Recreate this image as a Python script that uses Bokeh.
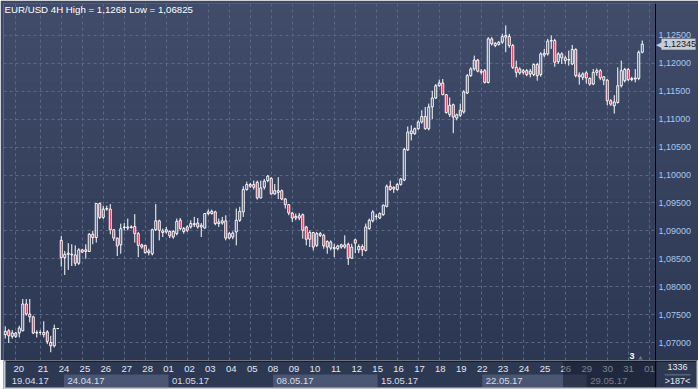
from bokeh.plotting import figure
from bokeh.models import (Range1d, FixedTicker, CustomJSTickFormatter, Grid,
                          BoxAnnotation, Label, ColumnDataSource)
from bokeh.layouts import column
from bokeh.core.properties import value
from bokeh.embed import file_html
from bokeh.resources import INLINE

# ---------------- data (EUR/USD, 4H candles) ----------------
opens = [1.0714, 1.0721, 1.0711, 1.0711, 1.0717, 1.0721, 1.0769, 1.0746, 1.0746, 1.0717,
         1.0718, 1.0714, 1.0719, 1.0700, 1.0694, 1.0725, 1.0883, 1.0852, 1.0858, 1.0857,
         1.0857, 1.0842, 1.0866, 1.0863, 1.0863, 1.0894, 1.0888, 1.0949, 1.0924, 1.0939,
         1.0939, 1.0902, 1.0887, 1.0875, 1.0906, 1.0905, 1.0906, 1.0908, 1.0895, 1.0875,
         1.0874, 1.0861, 1.0859, 1.0902, 1.0918, 1.0900, 1.0898, 1.0899, 1.0889, 1.0895,
         1.0919, 1.0899, 1.0907, 1.0907, 1.0911, 1.0914, 1.0907, 1.0905, 1.0931, 1.0935,
         1.0934, 1.0913, 1.0914, 1.0918, 1.0887, 1.0889, 1.0898, 1.0919, 1.0934, 1.0974,
         1.0980, 1.0983, 1.0987, 1.0959, 1.0978, 1.0990, 1.0994, 1.0966, 1.0969, 1.0972,
         1.0957, 1.0947, 1.0932, 1.0923, 1.0923, 1.0929, 1.0907, 1.0885, 1.0897, 1.0874,
         1.0892, 1.0892, 1.0881, 1.0869, 1.0868, 1.0868, 1.0875, 1.0871, 1.0876, 1.0851,
         1.0884, 1.0866, 1.0872, 1.0865, 1.0904, 1.0918, 1.0926, 1.0923, 1.0929, 1.0944,
         1.0980, 1.0975, 1.0974, 1.0983, 1.0991, 1.1045, 1.1074, 1.1074, 1.1083, 1.1095,
         1.1105, 1.1083, 1.1122, 1.1138, 1.1160, 1.1165, 1.1144, 1.1108, 1.1126, 1.1102,
         1.1107, 1.1113, 1.1147, 1.1178, 1.1190, 1.1206, 1.1186, 1.1187, 1.1166, 1.1244,
         1.1232, 1.1234, 1.1238, 1.1247, 1.1248, 1.1232, 1.1193, 1.1183, 1.1187, 1.1187,
         1.1181, 1.1180, 1.1198, 1.1180, 1.1215, 1.1217, 1.1240, 1.1241, 1.1203, 1.1210,
         1.1210, 1.1206, 1.1199, 1.1225, 1.1179, 1.1175, 1.1183, 1.1173, 1.1163, 1.1184,
         1.1187, 1.1170, 1.1170, 1.1133, 1.1124, 1.1130, 1.1160, 1.1169, 1.1189, 1.1171,
         1.1172, 1.1173, 1.1220]
highs = [1.0729, 1.0724, 1.0722, 1.0719, 1.0730, 1.0778, 1.0778, 1.0778, 1.0748, 1.0722,
         1.0722, 1.0738, 1.0722, 1.0712, 1.0732, 1.0726, 1.0891, 1.0864, 1.0878, 1.0876,
         1.0874, 1.0869, 1.0868, 1.0876, 1.0896, 1.0900, 1.0950, 1.0951, 1.0945, 1.0945,
         1.0948, 1.0903, 1.0888, 1.0913, 1.0914, 1.0922, 1.0910, 1.0930, 1.0898, 1.0877,
         1.0875, 1.0868, 1.0904, 1.0948, 1.0920, 1.0904, 1.0907, 1.0901, 1.0901, 1.0922,
         1.0923, 1.0907, 1.0910, 1.0919, 1.0925, 1.0923, 1.0914, 1.0932, 1.0938, 1.0938,
         1.0936, 1.0922, 1.0925, 1.0928, 1.0898, 1.0899, 1.0940, 1.0943, 1.0980, 1.0988,
         1.0986, 1.0990, 1.0990, 1.0990, 1.0993, 1.1000, 1.0996, 1.0984, 1.0996, 1.0974,
         1.0959, 1.0948, 1.0934, 1.0931, 1.0932, 1.0931, 1.0909, 1.0901, 1.0898, 1.0898,
         1.0898, 1.0895, 1.0883, 1.0883, 1.0877, 1.0875, 1.0877, 1.0892, 1.0879, 1.0877,
         1.0886, 1.0876, 1.0876, 1.0913, 1.0922, 1.0937, 1.0930, 1.0933, 1.0947, 1.0983,
         1.0990, 1.0980, 1.0986, 1.0995, 1.1049, 1.1087, 1.1089, 1.1085, 1.1098, 1.1116,
         1.1122, 1.1128, 1.1151, 1.1163, 1.1171, 1.1172, 1.1145, 1.1139, 1.1128, 1.1110,
         1.1128, 1.1152, 1.1181, 1.1193, 1.1214, 1.1208, 1.1190, 1.1190, 1.1247, 1.1247,
         1.1238, 1.1240, 1.1253, 1.1268, 1.1253, 1.1235, 1.1205, 1.1193, 1.1190, 1.1190,
         1.1190, 1.1200, 1.1201, 1.1220, 1.1226, 1.1244, 1.1250, 1.1244, 1.1220, 1.1220,
         1.1214, 1.1223, 1.1233, 1.1227, 1.1184, 1.1184, 1.1186, 1.1175, 1.1190, 1.1191,
         1.1190, 1.1177, 1.1172, 1.1136, 1.1143, 1.1193, 1.1205, 1.1192, 1.1192, 1.1176,
         1.1190, 1.1223, 1.1241]
lows = [1.0707, 1.0699, 1.0707, 1.0708, 1.0709, 1.0720, 1.0748, 1.0736, 1.0715, 1.0709,
        1.0714, 1.0709, 1.0697, 1.06825, 1.0691, 1.0724, 1.0836, 1.0821, 1.0830, 1.0837,
        1.0837, 1.0839, 1.0860, 1.0850, 1.0862, 1.0876, 1.0879, 1.0921, 1.0921, 1.0936,
        1.0894, 1.0882, 1.0855, 1.0859, 1.0901, 1.0901, 1.0904, 1.0879, 1.0853, 1.0868,
        1.0859, 1.0856, 1.0856, 1.0900, 1.0883, 1.0889, 1.0895, 1.0887, 1.0886, 1.0892,
        1.0901, 1.0895, 1.0898, 1.0904, 1.0907, 1.0904, 1.0889, 1.0904, 1.0928, 1.0929,
        1.0910, 1.0907, 1.0911, 1.0883, 1.0885, 1.0885, 1.0874, 1.0916, 1.0925, 1.0972,
        1.0977, 1.0974, 1.0956, 1.0958, 1.0974, 1.0987, 1.0965, 1.0965, 1.0957, 1.0955,
        1.0940, 1.0928, 1.0916, 1.0919, 1.0919, 1.0886, 1.0874, 1.0871, 1.0865, 1.0871,
        1.0889, 1.0868, 1.0859, 1.0865, 1.0853, 1.0865, 1.0868, 1.0868, 1.0839, 1.0850,
        1.0860, 1.0860, 1.0855, 1.0863, 1.0902, 1.0915, 1.0920, 1.0921, 1.0927, 1.0942,
        1.0972, 1.0968, 1.0972, 1.0981, 1.0989, 1.1043, 1.1062, 1.1072, 1.1081, 1.1092,
        1.1081, 1.1080, 1.1100, 1.1136, 1.1158, 1.1143, 1.1110, 1.1104, 1.1075, 1.1098,
        1.1104, 1.1110, 1.1145, 1.1176, 1.1187, 1.1184, 1.1180, 1.1164, 1.1164, 1.1232,
        1.1229, 1.1232, 1.1235, 1.1220, 1.1228, 1.1190, 1.1175, 1.1180, 1.1180, 1.1177,
        1.1175, 1.1177, 1.1169, 1.1176, 1.1211, 1.1214, 1.1226, 1.1194, 1.1199, 1.1199,
        1.1199, 1.1196, 1.1197, 1.1175, 1.1162, 1.1170, 1.1164, 1.1160, 1.1161, 1.1178,
        1.1170, 1.1161, 1.1125, 1.1124, 1.1110, 1.1128, 1.1157, 1.1166, 1.1168, 1.1168,
        1.1166, 1.1170, 1.1218]
closes = [1.0720, 1.0712, 1.0717, 1.0717, 1.0726, 1.0769, 1.0751, 1.0751, 1.0717, 1.0718,
          1.0718, 1.0718, 1.0702, 1.0694, 1.0725, 1.0725, 1.0852, 1.0858, 1.0860, 1.0858,
          1.0842, 1.0866, 1.0862, 1.0866, 1.0894, 1.0888, 1.0949, 1.0924, 1.0939, 1.0940,
          1.0902, 1.0887, 1.0873, 1.0904, 1.0907, 1.0907, 1.0907, 1.0895, 1.0874, 1.0871,
          1.0861, 1.0864, 1.0902, 1.0918, 1.0901, 1.0897, 1.0902, 1.0891, 1.0899, 1.0917,
          1.0904, 1.0904, 1.0901, 1.0913, 1.0913, 1.0907, 1.0910, 1.0931, 1.0934, 1.0931,
          1.0913, 1.0916, 1.0918, 1.0887, 1.0895, 1.0896, 1.0919, 1.0935, 1.0974, 1.0983,
          1.0983, 1.0978, 1.0959, 1.0977, 1.0989, 1.0998, 1.0966, 1.0972, 1.0972, 1.0957,
          1.0947, 1.0932, 1.0923, 1.0926, 1.0927, 1.0901, 1.0885, 1.0897, 1.0871, 1.0895,
          1.0895, 1.0873, 1.0871, 1.0880, 1.0870, 1.0873, 1.0871, 1.0875, 1.0851, 1.0871,
          1.0878, 1.0872, 1.0866, 1.0907, 1.0919, 1.0934, 1.0926, 1.0931, 1.0946, 1.0980,
          1.0974, 1.0978, 1.0983, 1.0993, 1.1046, 1.1077, 1.1079, 1.1083, 1.1095, 1.1105,
          1.1083, 1.1122, 1.1138, 1.1160, 1.1165, 1.1144, 1.1112, 1.1125, 1.1104, 1.1108,
          1.1116, 1.1149, 1.1178, 1.1190, 1.1206, 1.1186, 1.1184, 1.1166, 1.1244, 1.1235,
          1.1236, 1.1238, 1.1248, 1.1250, 1.1232, 1.1193, 1.1184, 1.1190, 1.1184, 1.1180,
          1.1186, 1.1198, 1.1178, 1.1217, 1.1218, 1.1240, 1.1241, 1.1202, 1.1217, 1.1217,
          1.1205, 1.1207, 1.1225, 1.1178, 1.1176, 1.1181, 1.1174, 1.1163, 1.1184, 1.1187,
          1.1174, 1.1176, 1.1133, 1.1127, 1.1131, 1.1160, 1.1187, 1.1189, 1.1171, 1.1173,
          1.1174, 1.1220, 1.12345]

day_labels = ["20", "21", "24", "25", "26", "27", "28", "01", "02", "03", "04", "05",
              "08", "09", "10", "11", "12", "15", "16", "17", "18", "19", "22", "23",
              "24", "25", "26", "29", "30", "31", "01"]
day_start = [3, 10, 16, 22, 28, 34, 40, 46, 52, 58, 64, 70, 76, 82, 88, 94, 100, 106,
             112, 118, 124, 130, 136, 142, 148, 154, 160, 166, 172, 178, 184]
week_labels = ["19.04.17", "24.04.17", "01.05.17", "08.05.17", "15.05.17", "22.05.17", "29.05.17"]
week_start = [0, 16, 46, 76, 106, 136, 166]
price_ticks = [1.070, 1.075, 1.080, 1.085, 1.090, 1.095, 1.100, 1.105, 1.110, 1.115, 1.120, 1.125]
last_price = 1.12345
last_price_text = "1,12345"
title_text = "EUR/USD 4H High = 1,1268 Low = 1,06825"
shift_text = "3"
info_top = "1336"
info_bottom = ">187<"

# ---------------- geometry / style ----------------
W, H_MAIN, H_STRIP = 698, 360, 29
LEFT, TOP = 3, 3
AXIS_PX = 655                  # x pixel of the price-axis line
SLOT = 3.5                     # pixels per bar
PPU = 5582.0                   # pixels per price unit
FRAME_W = W - LEFT
FRAME_H = H_MAIN - TOP
x0 = -0.5
x1 = x0 + FRAME_W / SLOT
y_lo = 1.07 - 18 / PPU
y_hi = y_lo + FRAME_H / PPU

FONT = "Liberation Sans"
BG_TOP, BG_BOT = (64, 76, 105), (44, 55, 83)
STRIP_BG = "#2d3853"
WEEK_LIGHT = "#4a5673"
GRID = "#5b6884"
RED = "#e0103a"
TAG = "#c9cdd6"


def px_x(px):
    return x0 + (px - LEFT) / SLOT


def px_y(py):
    return y_hi - (py - TOP) / PPU


p = figure(width=W, height=H_MAIN, x_range=Range1d(x0, x1), y_range=Range1d(y_lo, y_hi),
           output_backend="svg", toolbar_location=None, x_axis_location=None,
           y_axis_location="right", min_border_left=LEFT, min_border_right=0,
           min_border_top=TOP, min_border_bottom=0,
           background_fill_color="#2c3753", border_fill_color="#3c4864",
           outline_line_color=None)

# background gradient (chart area), then the same gradient over the price panel
n = 40
step = (y_hi - y_lo) / n
for k in range(n):
    f = (k + 0.5) / n
    c = tuple(int(round(BG_BOT[j] + (BG_TOP[j] - BG_BOT[j]) * f)) for j in range(3))
    col = "#%02x%02x%02x" % c
    p.add_layout(BoxAnnotation(bottom=y_lo + k * step, top=y_lo + (k + 1.05) * step,
                               fill_color=col, fill_alpha=1, line_color=None, level="image"))
    p.add_layout(BoxAnnotation(left=px_x(AXIS_PX), bottom=y_lo + k * step,
                               top=y_lo + (k + 1.05) * step, fill_color=col, fill_alpha=1,
                               line_color=None, level="glyph"))

for g in p.grid:
    g.visible = False
p.add_layout(Grid(dimension=0, ticker=FixedTicker(ticks=day_start), grid_line_color=GRID,
                  grid_line_dash="3 3", grid_line_width=1))
p.add_layout(Grid(dimension=1, ticker=FixedTicker(ticks=price_ticks), grid_line_color=GRID,
                  grid_line_dash="3 3", grid_line_width=1))

ax = p.yaxis[0]
ax.fixed_location = px_x(AXIS_PX)
ax.ticker = FixedTicker(ticks=price_ticks)
ax.formatter = CustomJSTickFormatter(code="return tick.toFixed(5).replace('.', ',');")
ax.major_label_text_color = "#a9c8ea"
ax.major_label_text_font = FONT
ax.major_label_text_font_size = "9px"
ax.axis_line_color = "black"
ax.axis_line_width = 1
ax.major_tick_out = 0
ax.major_tick_in = 0
ax.minor_tick_out = 0
ax.minor_tick_in = 0
ax.major_label_standoff = 3

idx = list(range(len(opens)))
src = ColumnDataSource(dict(
    x=idx,
    top=[max(o, c) for o, c in zip(opens, closes)],
    bot=[min(o, c) for o, c in zip(opens, closes)],
    high=highs, low=lows,
    fill=[RED if c < o else "#ffffff" for o, c in zip(opens, closes)],
    alpha=[1.0 if c < o else 0.0 for o, c in zip(opens, closes)],
))
p.segment(x0="x", y0="top", x1="x", y1="high", source=src, line_color="white", line_width=1)
p.segment(x0="x", y0="bot", x1="x", y1="low", source=src, line_color="white", line_width=1)
p.vbar(x="x", width=2 / SLOT, top="top", bottom="bot", source=src, fill_color="fill",
       fill_alpha="alpha", line_color="white", line_width=1)

p.add_layout(Label(x=px_x(4), y=px_y(3), text=title_text, text_color="white",
                   text_font=FONT, text_font_size="9.7px", text_baseline="top",
                   text_align="left"))
p.add_layout(Label(x=px_x(631.5), y=px_y(355.5), text=shift_text, text_color="white",
                   text_font=FONT, text_font_size="9px", text_font_style="bold",
                   text_baseline="middle", text_align="center"))
p.add_layout(Label(x=px_x(640), y=px_y(356), text="\u25b2", text_color="#6c7690",
                   text_font="DejaVu Sans", text_font_size="5px",
                   text_baseline="middle", text_align="center"))

# current price tag on the price axis
p.add_layout(BoxAnnotation(left=px_x(661), right=px_x(695), bottom=last_price - 5.5 / PPU,
                           top=last_price + 5.5 / PPU, fill_color=TAG, fill_alpha=1,
                           line_color="#9aa0ab", line_width=1, level="overlay"))
p.add_layout(Label(x=px_x(655.5), y=last_price, text="\u25c0", text_color=TAG,
                   text_font="DejaVu Sans", text_font_size="11px", level="overlay",
                   text_baseline="middle", text_align="left"))
p.add_layout(Label(x=px_x(663), y=last_price, text=last_price_text, text_color="#15171c",
                   text_font=FONT, text_font_size="9px", level="overlay",
                   text_baseline="middle", text_align="left"))

# ---------------- bottom time strip ----------------
s = figure(width=W, height=H_STRIP, x_range=Range1d(px_x(0), px_x(W)),
           y_range=Range1d(0, H_STRIP), output_backend="svg", toolbar_location=None,
           x_axis_location=None, y_axis_location=None, min_border=0,
           background_fill_color=STRIP_BG, outline_line_color=None)
for g in s.grid:
    g.visible = False

light_l = [week_start[k] for k in range(1, len(week_start) - 1, 2)]
light_r = [week_start[k + 1] for k in range(1, len(week_start) - 1, 2)]
s.quad(left=light_l, right=light_r, bottom=2, top=15, fill_color=WEEK_LIGHT, line_color=None)

s.text(x=day_start, y=[20.5] * len(day_start), text=day_labels, text_color="#e1e7f1",
       text_font=value(FONT), text_font_size="9.5px", text_align="center",
       text_baseline="middle")
s.text(x=[w + 1.0 for w in week_start], y=[8.5] * len(week_start), text=week_labels,
       text_color="#d7dde8", text_font=value(FONT), text_font_size="9.5px",
       text_align="left", text_baseline="middle")

s.add_layout(BoxAnnotation(left=px_x(562), right=px_x(AXIS_PX), bottom=2, top=28,
                           fill_color="#121827", fill_alpha=0.5, line_color=None))
s.add_layout(BoxAnnotation(bottom=28, top=29, fill_color="black", fill_alpha=1, line_color=None))
s.add_layout(BoxAnnotation(left=px_x(AXIS_PX) - 0.5 / SLOT, right=px_x(AXIS_PX) + 0.5 / SLOT,
                           bottom=2, top=29, fill_color="black", fill_alpha=1, line_color=None))
s.add_layout(Label(x=px_x(677), y=22.3, text=info_top, text_color="#e6ebf3", text_font=FONT,
                   text_font_size="9px", text_align="center", text_baseline="middle"))
s.add_layout(BoxAnnotation(left=px_x(664), right=px_x(690), bottom=14.3, top=15.0,
                           fill_color="#8390a6", fill_alpha=1, line_color=None))
s.add_layout(Label(x=px_x(677), y=8.5, text=info_bottom, text_color="#e6ebf3", text_font=FONT,
                   text_font_size="9px", text_align="center", text_baseline="middle"))
s.add_layout(BoxAnnotation(bottom=0, top=2, fill_color="#c6cad2", fill_alpha=1, line_color=None))
s.add_layout(BoxAnnotation(left=px_x(0), right=px_x(2), fill_color="#c6cad2", fill_alpha=1,
                           line_color=None))
s.add_layout(BoxAnnotation(left=px_x(696), right=px_x(698), fill_color="#c6cad2", fill_alpha=1,
                           line_color=None))

layout = column(p, s, spacing=0)
open("out.html", "w").write(file_html(layout, INLINE))
